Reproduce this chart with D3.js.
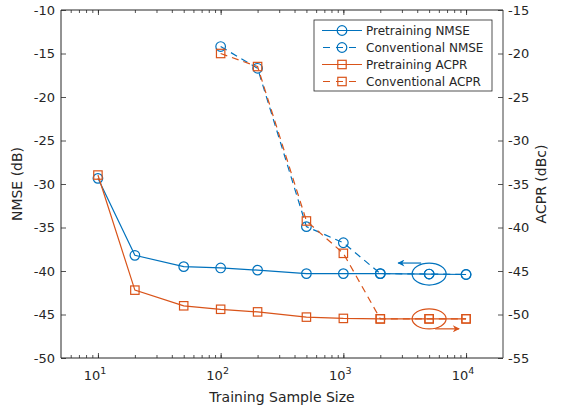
<!DOCTYPE html>
<html lang="en">
<head>
    <meta charset="UTF-8">
    <title>NMSE / ACPR vs training sample size</title>
    <script src="https://cdn.jsdelivr.net/npm/d3@7/dist/d3.min.js"></script>
    <style>
        body { margin: 0; background: #fff; }
        text { font-family: "DejaVu Sans", Verdana, sans-serif; fill: #262626; }
    </style>
</head>
<body>
<script>
    // canvas
    const width = 562;
    const height = 409;
    const margin = {top: 10, right: 59, bottom: 51, left: 61};

    // data
    const sizesPre = [10, 20, 50, 100, 200, 500, 1000, 2000, 5000, 10000];
    const sizesConv = [100, 200, 500, 1000, 2000, 5000, 10000];
    const nmsePre = [-29.35, -38.2, -39.5, -39.65, -39.9, -40.3, -40.3, -40.3, -40.35, -40.4];
    const nmseConv = [-14.2, -16.7, -34.9, -36.75, -40.3, -40.35, -40.4];
    const acprPre = [-33.97, -47.2, -49.0, -49.4, -49.7, -50.3, -50.45, -50.5, -50.5, -50.5];
    const acprConv = [-20.0, -21.5, -39.25, -42.97, -50.5, -50.5, -50.5];
    const nmseTicks = [-50, -45, -40, -35, -30, -25, -20, -15, -10];
    const acprTicks = [-55, -50, -45, -40, -35, -30, -25, -20, -15];
    const xTicks = [10, 100, 1000, 10000];

    const blue = '#0072BD';
    const orange = '#D95319';
    const axisColor = '#262626';

    const svg = d3.select('body')
        .append('svg')
        .attr('width', width)
        .attr('height', height);

    const x = d3.scaleLog()
        .domain([5, 20000])
        .range([margin.left, width - margin.right]);
    const yL = d3.scaleLinear()
        .domain([-50, -10])
        .range([height - margin.bottom, margin.top]);
    const yR = d3.scaleLinear()
        .domain([-55, -15])
        .range([height - margin.bottom, margin.top]);

    const x0 = margin.left, x1 = width - margin.right;
    const y0 = height - margin.bottom, y1 = margin.top;

    // minor ticks for log axis
    const minorTicks = [];
    for (let e = 0; e <= 4; e++) {
        for (let m = 1; m <= 9; m++) {
            const v = m * Math.pow(10, e);
            if (v > 5 && v < 20000) minorTicks.push(v);
        }
    }

    // bottom axis (ticks inward)
    const xBottom = svg.append('g')
        .attr('transform', `translate(0,${y0})`)
        .call(d3.axisTop(x).tickValues(minorTicks)
            .tickSize(3).tickFormat(''));
    xBottom.select('.domain').remove();
    svg.append('g')
        .attr('transform', `translate(0,${y0})`)
        .call(d3.axisTop(x).tickValues(xTicks).tickSize(5).tickFormat(''))
        .select('.domain').remove();

    // top axis (ticks inward)
    svg.append('g')
        .attr('transform', `translate(0,${y1})`)
        .call(d3.axisBottom(x).tickValues(minorTicks).tickSize(3).tickFormat(''))
        .select('.domain').remove();
    svg.append('g')
        .attr('transform', `translate(0,${y1})`)
        .call(d3.axisBottom(x).tickValues(xTicks).tickSize(5).tickFormat(''))
        .select('.domain').remove();

    // left axis
    const yLeft = svg.append('g')
        .attr('transform', `translate(${x0},0)`)
        .call(d3.axisRight(yL).tickValues(nmseTicks).tickSize(5).tickFormat(''));
    yLeft.select('.domain').remove();

    // right axis
    svg.append('g')
        .attr('transform', `translate(${x1},0)`)
        .call(d3.axisLeft(yR).tickValues(acprTicks).tickSize(5).tickFormat(''))
        .select('.domain').remove();

    svg.selectAll('.tick line').attr('stroke', axisColor).attr('stroke-width', 0.8);

    // box
    svg.append('path')
        .attr('d', `M${x0},${y1}H${x1}M${x0},${y1}V${y0}H${x1}`)
        .attr('fill', 'none')
        .attr('stroke', axisColor)
        .attr('stroke-width', 1);
    svg.append('line')
        .attr('x1', x1).attr('x2', x1).attr('y1', y1).attr('y2', y0)
        .attr('stroke', '#404040')
        .attr('stroke-width', 1);

    // tick labels
    svg.append('g').selectAll('text')
        .data(nmseTicks)
        .enter()
        .append('text')
        .attr('x', x0 - 6)
        .attr('y', d => yL(d))
        .attr('dy', '0.35em')
        .attr('text-anchor', 'end')
        .style('font-size', '13px')
        .text(d => d);

    svg.append('g').selectAll('text')
        .data(acprTicks)
        .enter()
        .append('text')
        .attr('x', x1 + 5)
        .attr('y', d => yR(d))
        .attr('dy', '0.35em')
        .attr('text-anchor', 'start')
        .style('font-size', '13px')
        .text(d => d);

    const xl = svg.append('g').selectAll('text')
        .data(xTicks)
        .enter()
        .append('text')
        .attr('x', d => x(d) - 3)
        .attr('y', y0 + 22)
        .attr('text-anchor', 'middle')
        .style('font-size', '13px');
    xl.append('tspan').text('10');
    xl.append('tspan')
        .attr('dy', -6)
        .style('font-size', '9.5px')
        .text(d => Math.round(Math.log10(d)));

    // axis titles
    svg.append('text')
        .attr('x', (x0 + x1) / 2)
        .attr('y', y0 + 44)
        .attr('text-anchor', 'middle')
        .style('font-size', '14px')
        .text('Training Sample Size');
    svg.append('text')
        .attr('transform', `translate(22,${(y0 + y1) / 2}) rotate(-90)`)
        .attr('text-anchor', 'middle')
        .style('font-size', '14px')
        .text('NMSE (dB)');
    svg.append('text')
        .attr('transform', `translate(546,${(y0 + y1) / 2}) rotate(-90)`)
        .attr('text-anchor', 'middle')
        .style('font-size', '14px')
        .text('ACPR (dBc)');

    // series
    const series = [
        {name: 'Pretraining NMSE', xs: sizesPre, ys: nmsePre, y: yL, color: blue, dash: null, marker: 'circle'},
        {name: 'Conventional NMSE', xs: sizesConv, ys: nmseConv, y: yL, color: blue, dash: '7,5', marker: 'circle'},
        {name: 'Pretraining ACPR', xs: sizesPre, ys: acprPre, y: yR, color: orange, dash: null, marker: 'square'},
        {name: 'Conventional ACPR', xs: sizesConv, ys: acprConv, y: yR, color: orange, dash: '7,5', marker: 'square'}
    ];

    function drawMarker(g, type, cx, cy, color) {
        if (type === 'circle') {
            g.append('circle')
                .attr('cx', cx).attr('cy', cy).attr('r', 4.8)
                .attr('fill', 'none').attr('stroke', color).attr('stroke-width', 1.2);
        } else {
            g.append('rect')
                .attr('x', cx - 4.2).attr('y', cy - 4.2)
                .attr('width', 8.4).attr('height', 8.4)
                .attr('fill', 'none').attr('stroke', color).attr('stroke-width', 1.2);
        }
    }

    const plot = svg.append('g');
    series.forEach(s => {
        const pts = s.xs.map((v, i) => [x(v), s.y(s.ys[i])]);
        plot.append('path')
            .attr('d', d3.line()(pts))
            .attr('fill', 'none')
            .attr('stroke', s.color)
            .attr('stroke-width', 1.2)
            .attr('stroke-dasharray', s.dash);
        pts.forEach(p => drawMarker(plot, s.marker, p[0], p[1], s.color));
    });

    // annotations: ellipses with arrows
    svg.append('defs').selectAll('marker')
        .data([['arrBlue', blue], ['arrOrange', orange]])
        .enter()
        .append('marker')
        .attr('id', d => d[0])
        .attr('viewBox', '0 0 10 10')
        .attr('refX', 9).attr('refY', 5)
        .attr('markerWidth', 9).attr('markerHeight', 7)
        .attr('markerUnits', 'userSpaceOnUse')
        .attr('orient', 'auto')
        .append('path')
        .attr('d', 'M0,0L10,5L0,10L3,5Z')
        .attr('fill', d => d[1]);

    const ax = x(5000);
    svg.append('ellipse')
        .attr('cx', ax).attr('cy', yL(-40.35))
        .attr('rx', 17).attr('ry', 11)
        .attr('fill', 'none').attr('stroke', blue).attr('stroke-width', 1.2);
    svg.append('line')
        .attr('x1', ax - 8).attr('y1', yL(-40.35) - 11)
        .attr('x2', ax - 31).attr('y2', yL(-40.35) - 11)
        .attr('stroke', blue).attr('stroke-width', 1.2)
        .attr('marker-end', 'url(#arrBlue)');

    svg.append('ellipse')
        .attr('cx', ax).attr('cy', yR(-50.5))
        .attr('rx', 17).attr('ry', 10)
        .attr('fill', 'none').attr('stroke', orange).attr('stroke-width', 1.2);
    svg.append('line')
        .attr('x1', ax + 6).attr('y1', yR(-50.5) + 10)
        .attr('x2', ax + 30).attr('y2', yR(-50.5) + 10)
        .attr('stroke', orange).attr('stroke-width', 1.2)
        .attr('marker-end', 'url(#arrOrange)');

    // legend
    const lg = svg.append('g').attr('transform', 'translate(314,20)');
    lg.append('rect')
        .attr('width', 178).attr('height', 71)
        .attr('fill', '#fff')
        .attr('stroke', '#262626')
        .attr('stroke-width', 0.8);
    series.forEach((s, i) => {
        const ly = 10.5 + i * 17;
        lg.append('line')
            .attr('x1', 8).attr('x2', 48).attr('y1', ly).attr('y2', ly)
            .attr('stroke', s.color).attr('stroke-width', 1.2)
            .attr('stroke-dasharray', s.dash ? '7,6' : null)
            .attr('stroke-dashoffset', s.dash ? -1 : null);
        drawMarker(lg, s.marker, 28, ly, s.color);
        lg.append('text')
            .attr('x', 52).attr('y', ly)
            .attr('dy', '0.35em')
            .style('font-size', '12px')
            .text(s.name);
    });
</script>
</body>
</html>
